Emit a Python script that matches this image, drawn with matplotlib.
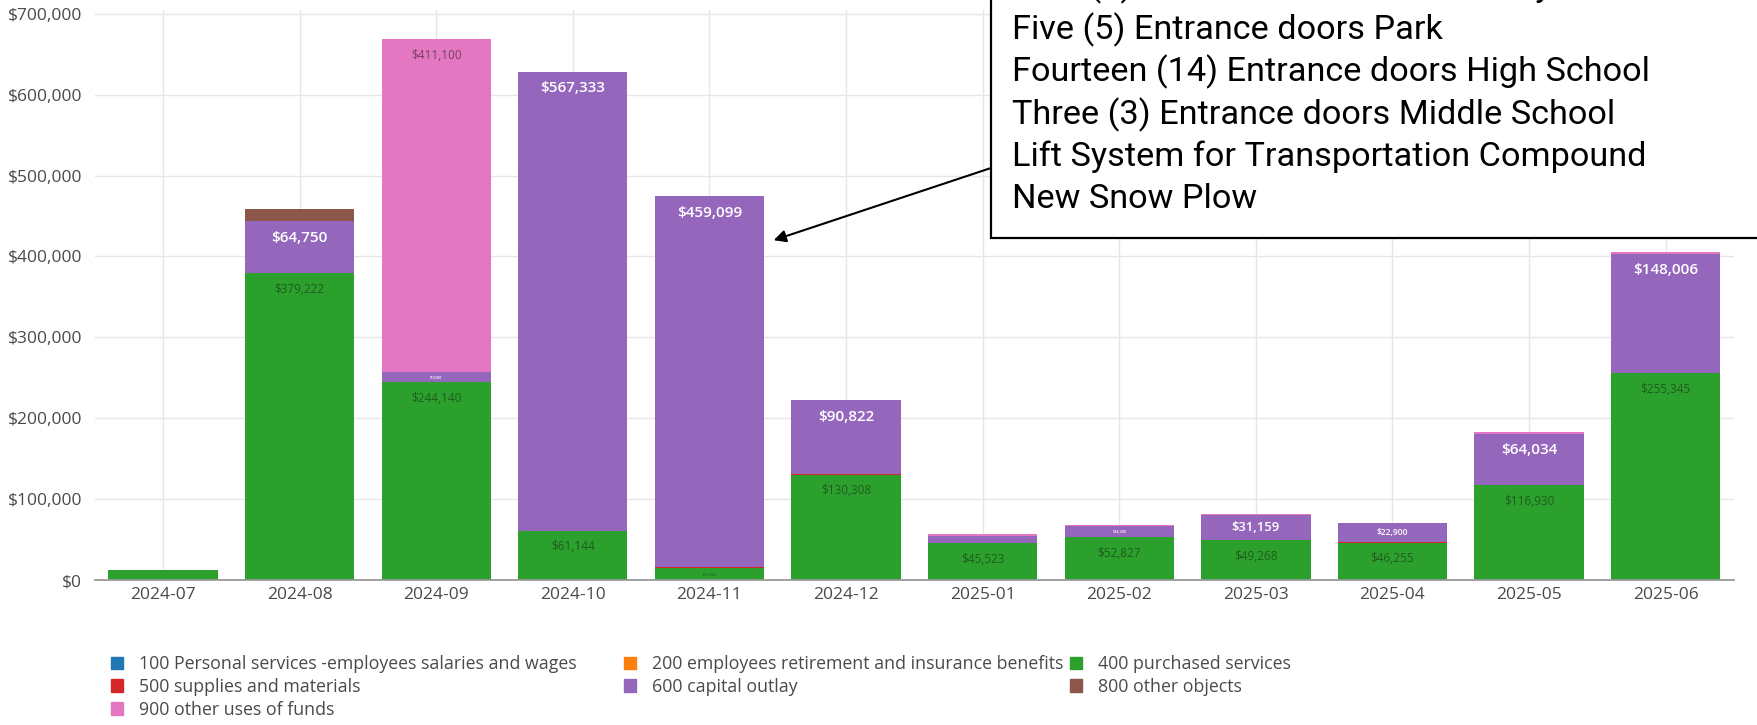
import matplotlib
matplotlib.use("Agg")
import numpy as np
import matplotlib.pyplot as plt
from matplotlib.patches import Patch, Rectangle
from matplotlib.ticker import FuncFormatter, MultipleLocator

months = ["2024-07", "2024-08", "2024-09", "2024-10", "2024-11", "2024-12",
          "2025-01", "2025-02", "2025-03", "2025-04", "2025-05", "2025-06"]

# spending per object code, stacked bottom -> top
s100 = [0, 0, 0, 0, 0, 0, 0, 0, 0, 0, 0, 0]
s200 = [0, 0, 0, 0, 0, 0, 0, 0, 0, 0, 0, 0]
s400 = [12400, 379222, 244140, 61144, 15000, 130308, 45523, 52827, 49268, 46255, 116930, 255345]
s500 = [0, 0, 0, 0, 600, 900, 0, 0, 0, 1000, 0, 0]
s600 = [0, 64750, 13500, 567333, 459099, 90822, 9000, 14300, 31159, 22900, 64034, 148006]
s800 = [0, 14600, 0, 0, 0, 0, 0, 0, 0, 0, 0, 0]
s900 = [0, 0, 411100, 0, 0, 0, 2000, 1200, 1500, 700, 2500, 2500]

series_names = ["100 Personal services -employees salaries and wages",
                "200 employees retirement and insurance benefits",
                "400 purchased services",
                "500 supplies and materials",
                "600 capital outlay",
                "800 other objects",
                "900 other uses of funds"]
series_vals = [s100, s200, s400, s500, s600, s800, s900]
colors = ["#1f77b4", "#ff7f0e", "#2ca02c", "#d62728", "#9467bd", "#8c564b", "#e377c2"]

note_lines = ["Four (4) Entrance doors Elementary School",
              "Five (5) Entrance doors Park",
              "Fourteen (14) Entrance doors High School",
              "Three (3) Entrance doors Middle School",
              "Lift System for Transportation Compound",
              "New Snow Plow"]

W, H = 1758, 725
fig = plt.figure(figsize=(W / 100, H / 100), dpi=100)
ax = fig.add_axes([94.7 / W, 145 / H, (1734 - 94.7) / W, 570 / H])

x = np.arange(len(months))
ymax = 704600
px_per_unit = 570 / ymax

# label style per series index: (base size, color, weight, min size)
label_style = {2: (8.5, "#1f5c1f", "normal", 3.0),
               4: (11, "white", "semibold", 1.5),
               6: (8.5, "#74405f", "normal", 3.0)}

bottom = np.zeros(len(months))
for i, (vals, c) in enumerate(zip(series_vals, colors)):
    vals = np.array(vals, dtype=float)
    ax.bar(x, vals, 0.8, bottom=bottom, color=c, zorder=2, linewidth=0)
    if i in label_style:
        base, tc, wt, fmin = label_style[i]
        for xi, v, b in zip(x, vals, bottom):
            if v <= 0:
                continue
            seg_px = v * px_per_unit
            fs = min(base, (seg_px - 6) * 0.68 * 0.72)
            if fs < fmin:
                continue
            txt = f"${v:,.0f}"
            if fs < base:
                ax.text(xi, b + v / 2, txt, ha="center", va="center",
                        fontsize=fs, color=tc, fontweight=wt, zorder=3,
                        family="Open Sans")
            else:
                ax.annotate(txt, (xi, b + v), xytext=(0, -7), textcoords="offset points",
                            ha="center", va="top", fontsize=fs, color=tc,
                            fontweight=wt, zorder=3, family="Open Sans")
    bottom += vals

ax.set_xlim(-0.5, len(months) - 0.5)
ax.set_ylim(0, ymax)
ax.set_xticks(x)
ax.set_xticklabels(months)
ax.yaxis.set_major_locator(MultipleLocator(100000))
ax.yaxis.set_major_formatter(FuncFormatter(lambda v, p: f"${v:,.0f}"))
ax.grid(True, color="#e6e6e6", lw=1, zorder=0)
ax.set_axisbelow(True)
for side in ["top", "right", "left"]:
    ax.spines[side].set_visible(False)
ax.spines["bottom"].set_color("#999999")
ax.spines["bottom"].set_linewidth(1.3)
ax.tick_params(axis="x", length=0, labelsize=12.5, labelcolor="#4a4a4a", pad=5)
ax.tick_params(axis="y", length=0, labelsize=12.5, labelcolor="#4a4a4a", pad=9)
for lab in ax.get_xticklabels() + ax.get_yticklabels():
    lab.set_family("Open Sans")

# legend: one block per column so each column starts where the reference has it
order_cols = [[0, 3, 6], [1, 4], [2, 5]]
col_left = [111, 624, 1070]
for cols, left in zip(order_cols, col_left):
    handles = [Patch(color=colors[k]) for k in cols]
    labels = [series_names[k] for k in cols]
    fig.legend(handles, labels, loc="upper left", bbox_to_anchor=(left / W, 1 - 655 / H),
               ncol=1, frameon=False, borderpad=0, borderaxespad=0,
               handlelength=0.7, handleheight=0.7, handletextpad=0.9,
               labelspacing=0.27, prop={"family": "Open Sans", "size": 12.8},
               labelcolor="#4a4a4a")

# note box with arrow pointing at 2024-11
box_left, box_bottom = 991, 238
fig.add_artist(Rectangle((box_left / W, 1 - box_bottom / H), 1, 1,
                         transform=fig.transFigure, facecolor="white",
                         edgecolor="black", lw=1.6, zorder=5))
for k, line in enumerate(note_lines):
    yc = 199.5 - (len(note_lines) - 1 - k) * 42.5
    fig.text(1012 / W, 1 - yc / H, line, ha="left", va="center",
             fontsize=24.7, family="Roboto", color="black", zorder=6)

ax.annotate("", xy=(4.47, 420000), xycoords="data",
            xytext=(box_left / W, 1 - 168 / H), textcoords="figure fraction",
            arrowprops=dict(arrowstyle="-|>", color="black", lw=1.5,
                            mutation_scale=18, shrinkA=0, shrinkB=0),
            annotation_clip=False)

fig.savefig("out.png", dpi=100)
